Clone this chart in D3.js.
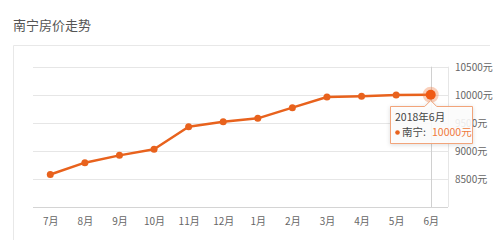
<!DOCTYPE html>
<html>
<head>
<meta charset="utf-8">
<script src="https://cdn.jsdelivr.net/npm/d3@7"></script>
<style>
	body { margin: 0; background: #fff; }
	svg text { font-family: "Noto Sans CJK SC", "Noto Sans", sans-serif; }
</style>
</head>
<body>
<div id="graphic"></div>
<script>
// data
const months = ['7月', '8月', '9月', '10月', '11月', '12月', '1月', '2月', '3月', '4月', '5月', '6月'];
const prices = [8580, 8790, 8920, 9030, 9430, 9520, 9580, 9770, 9960, 9975, 9995, 10000];
const yTicks = [8500, 9000, 9500, 10000, 10500];
const cityName = '南宁';
const hoverLabel = '2018年6月';

const width = 500, height = 240;
const lineColour = '#e8621d';

let svg = d3.select('#graphic').append('svg')
	.attr('width', width)
	.attr('height', height);

// title
svg.append('text')
	.attr('x', 13)
	.attr('y', 30)
	.attr('font-size', 13)
	.attr('fill', '#555')
	.text('南宁房价走势');

// outer panel
svg.append('path')
	.attr('d', 'M13.5,' + (height + 2) + 'V45.5H490')
	.attr('fill', 'none')
	.attr('stroke', '#e8e8e8');

const x = d3.scalePoint().domain(months).range([33, 448]).padding(0.5);
const y = d3.scaleLinear().domain([8000, 10500]).range([207, 66.7]);

// gridlines
svg.append('g')
	.selectAll('line')
	.data(yTicks)
	.join('line')
	.attr('x1', 33)
	.attr('x2', 448)
	.attr('y1', (d) => Math.round(y(d)) + 0.5)
	.attr('y2', (d) => Math.round(y(d)) + 0.5)
	.attr('stroke', '#e6e6e6');

// bottom axis
let xAxis = d3.axisBottom(x).tickSize(0).tickPadding(10);
svg.append('g')
	.attr('class', 'x axis')
	.attr('transform', 'translate(0,' + (Math.round(y(8000)) + 0.5) + ')')
	.call(xAxis)
	.call((g) => g.select('.domain').attr('stroke', '#d4d4d4').attr('d', 'M33,0H448'))
	.selectAll('text')
	.attr('font-size', 10)
	.attr('fill', '#666')
	.attr('font-family', '"Noto Sans CJK SC", sans-serif');

// right border of plot area
svg.append('line')
	.attr('x1', 448.5).attr('x2', 448.5)
	.attr('y1', y(10500)).attr('y2', y(8000))
	.attr('stroke', '#e6e6e6');

// y labels on the right
svg.append('g')
	.selectAll('text')
	.data(yTicks)
	.join('text')
	.attr('x', 455)
	.attr('y', (d) => y(d) + 4)
	.attr('font-size', 10)
	.attr('fill', '#666')
	.text((d) => d + '元');

// crosshair at hovered month
const last = months.length - 1;
svg.append('line')
	.attr('x1', Math.round(x(months[last])) + 0.5)
	.attr('x2', Math.round(x(months[last])) + 0.5)
	.attr('y1', y(10500))
	.attr('y2', y(8000))
	.attr('stroke', '#d0d0d0');

// line
const line = d3.line()
	.x((d, i) => x(months[i]))
	.y((d) => y(d));

svg.append('path')
	.datum(prices)
	.attr('d', line)
	.attr('fill', 'none')
	.attr('stroke', lineColour)
	.attr('stroke-width', 2.5)
	.attr('stroke-linejoin', 'round');

svg.append('g')
	.selectAll('circle')
	.data(prices.slice(0, last))
	.join('circle')
	.attr('cx', (d, i) => x(months[i]))
	.attr('cy', (d) => y(d))
	.attr('r', 3.5)
	.attr('fill', lineColour);

// hovered point
svg.append('circle')
	.attr('cx', x(months[last]))
	.attr('cy', y(prices[last]))
	.attr('r', 8)
	.attr('fill', 'rgba(240,120,60,0.35)');
svg.append('circle')
	.attr('cx', x(months[last]))
	.attr('cy', y(prices[last]))
	.attr('r', 5)
	.attr('fill', '#f05a14');

// tooltip
let tx = x(months[last]);
let tip = svg.append('g');
tip.append('path')
	.attr('d', 'M390.5,106.5H' + (tx - 6) + 'L' + tx + ',100.5L' + (tx + 6) + ',106.5H472.5V143.5H390.5Z')
	.attr('fill', 'rgba(255,255,255,0.88)')
	.attr('stroke', '#f2a47a')
	.attr('stroke-width', 1)
	.style('filter', 'drop-shadow(0px 1px 2px rgba(0,0,0,0.15))');
tip.append('text')
	.attr('x', 395)
	.attr('y', 121)
	.attr('font-size', 10.5)
	.attr('fill', '#444')
	.text(hoverLabel);
tip.append('circle')
	.attr('cx', 397.5)
	.attr('cy', 132.5)
	.attr('r', 2.3)
	.attr('fill', lineColour);
tip.append('text')
	.attr('x', 402)
	.attr('y', 136)
	.attr('font-size', 10.5)
	.attr('fill', '#444')
	.text(cityName + ':');
tip.append('text')
	.attr('x', 432)
	.attr('y', 136)
	.attr('font-size', 10.5)
	.attr('fill', '#f07a3c')
	.text(prices[last] + '元');
</script>
</body>
</html>
